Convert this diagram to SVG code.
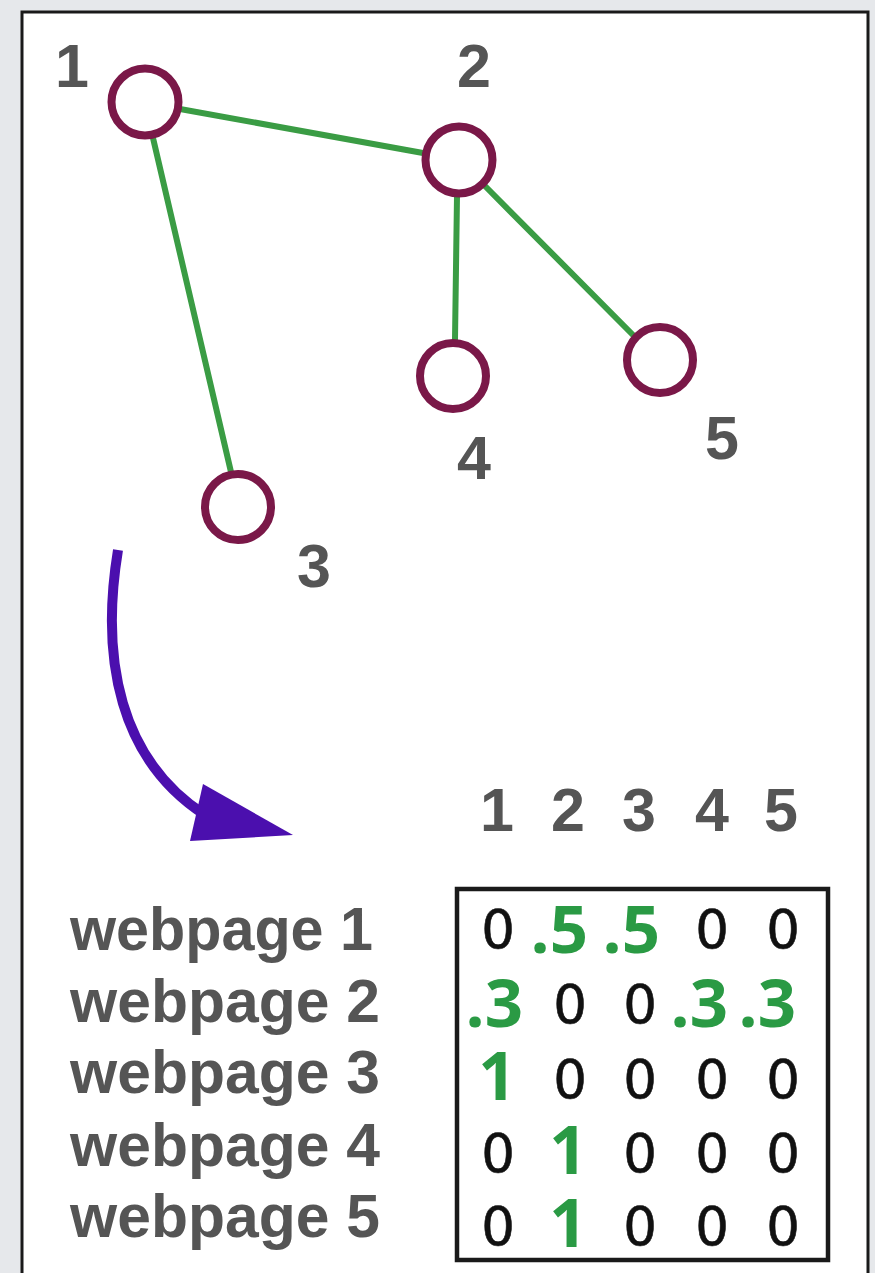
<svg xmlns="http://www.w3.org/2000/svg" width="875" height="1273" viewBox="0 0 875 1273">
  <defs>
    <style>
      .node { fill: #ffffff; stroke: #7a1848; stroke-width: 8; }
      .edge { stroke: #3a9c44; stroke-width: 6; stroke-linecap: round; fill: none; }
      .lbl { font-family: "Liberation Sans", Arial, sans-serif; font-weight: bold; font-size: 61px; fill: #555555; text-anchor: middle; }
      .row { font-family: "Liberation Sans", Arial, sans-serif; font-weight: bold; font-size: 62px; fill: #555555; }
      .z { font-family: "DejaVu Sans", "Liberation Sans", sans-serif; font-size: 53px; fill: #111111; stroke: #111111; stroke-width: 0.6; text-anchor: middle; }
      .g { font-family: "Open Sans", "Liberation Sans", sans-serif; font-weight: bold; font-size: 67px; fill: #2a9a44; text-anchor: end; }
      .g1 { font-family: "Open Sans", "Liberation Sans", sans-serif; font-weight: bold; font-size: 66px; fill: #2a9a44; text-anchor: middle; }
    </style>
  </defs>

  <!-- page background and frame -->
  <rect x="0" y="0" width="875" height="1273" fill="#e6e8eb"/>
  <rect x="22" y="12" width="846" height="1290" fill="#ffffff" stroke="#1a1a1a" stroke-width="3"/>

  <!-- links between pages, and the arrow to the matrix -->
  <g id="connectors">
    <line class="edge" x1="180" y1="109" x2="423" y2="153"/>
    <line class="edge" x1="153" y1="138" x2="231" y2="472"/>
    <line class="edge" x1="457" y1="196" x2="455" y2="340"/>
    <line class="edge" x1="485" y1="186" x2="635" y2="337"/>
    <path id="arrow" d="M118,550 C100,660 120,760 205,815" fill="none" stroke="#4b0fae" stroke-width="10" stroke-linecap="butt"/>
    <polygon points="203,784 293,835 190,841" fill="#4b0fae"/>
  </g>

  <g id="node1">
    <circle class="node" cx="145" cy="102" r="33.5"/>
    <text class="lbl" x="72" y="87">1</text>
  </g>
  <g id="node2">
    <circle class="node" cx="459" cy="160" r="33.5"/>
    <text class="lbl" x="474" y="87">2</text>
  </g>
  <g id="node3">
    <circle class="node" cx="238" cy="507" r="33"/>
    <text class="lbl" x="314" y="587">3</text>
  </g>
  <g id="node4">
    <circle class="node" cx="453" cy="376" r="33"/>
    <text class="lbl" x="474" y="479">4</text>
  </g>
  <g id="node5">
    <circle class="node" cx="660" cy="360" r="33"/>
    <text class="lbl" x="722" y="459">5</text>
  </g>

  <!-- transition matrix -->
  <g id="matrix">
    <text class="lbl" x="497" y="831">1</text>
    <text class="lbl" x="568" y="831">2</text>
    <text class="lbl" x="639" y="831">3</text>
    <text class="lbl" x="712" y="831">4</text>
    <text class="lbl" x="781" y="831">5</text>

    <text class="row" x="70" y="950" textLength="303" lengthAdjust="spacingAndGlyphs">webpage 1</text>
    <text class="row" x="70" y="1022" textLength="310" lengthAdjust="spacingAndGlyphs">webpage 2</text>
    <text class="row" x="70" y="1093" textLength="310" lengthAdjust="spacingAndGlyphs">webpage 3</text>
    <text class="row" x="70" y="1166" textLength="310" lengthAdjust="spacingAndGlyphs">webpage 4</text>
    <text class="row" x="70" y="1237" textLength="310" lengthAdjust="spacingAndGlyphs">webpage 5</text>

    <rect x="457" y="889" width="371" height="371" fill="none" stroke="#1a1a1a" stroke-width="4.5"/>

    <!-- row 1 -->
    <text class="z" x="498" y="948">0</text>
    <text class="g" x="588" y="953">.5</text>
    <text class="g" x="660" y="953">.5</text>
    <text class="z" x="712" y="948">0</text>
    <text class="z" x="783" y="948">0</text>
    <!-- row 2 -->
    <text class="g" x="523" y="1027">.3</text>
    <text class="z" x="570" y="1023">0</text>
    <text class="z" x="640" y="1023">0</text>
    <text class="g" x="728" y="1027">.3</text>
    <text class="g" x="796" y="1027">.3</text>
    <!-- row 3 -->
    <text class="g1" x="497" y="1100">1</text>
    <text class="z" x="570" y="1098">0</text>
    <text class="z" x="640" y="1098">0</text>
    <text class="z" x="712" y="1098">0</text>
    <text class="z" x="783" y="1098">0</text>
    <!-- row 4 -->
    <text class="z" x="498" y="1172">0</text>
    <text class="g1" x="568" y="1174">1</text>
    <text class="z" x="640" y="1172">0</text>
    <text class="z" x="712" y="1172">0</text>
    <text class="z" x="783" y="1172">0</text>
    <!-- row 5 -->
    <text class="z" x="498" y="1245">0</text>
    <text class="g1" x="568" y="1247">1</text>
    <text class="z" x="640" y="1245">0</text>
    <text class="z" x="712" y="1245">0</text>
    <text class="z" x="783" y="1245">0</text>
  </g>
</svg>
